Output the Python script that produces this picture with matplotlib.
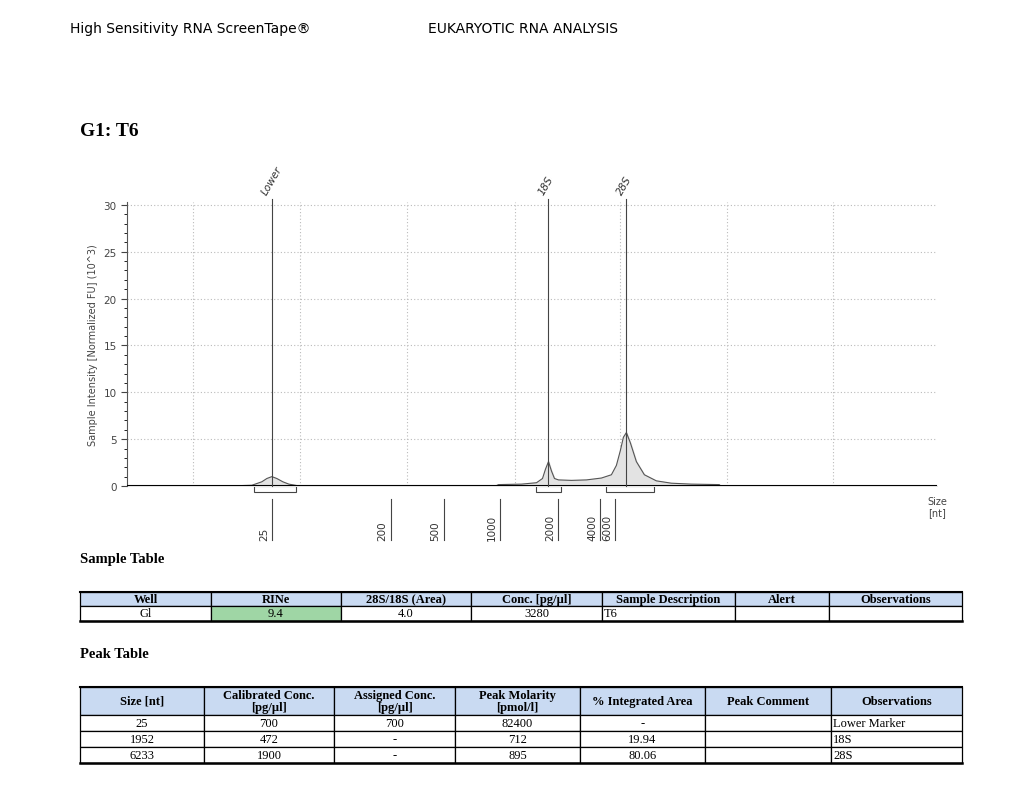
import matplotlib.pyplot as plt
from matplotlib.patches import Rectangle
from matplotlib.transforms import blended_transform_factory

# electropherogram trace: position along run (px units) vs intensity (10^3 FU)
trace_pos = [0, 110, 125, 135, 140, 145, 150, 156, 162, 170, 370, 372, 395, 410, 416, 419,
             422, 425, 428, 432, 445, 460, 475, 485, 490, 494, 497, 500, 504, 510, 518, 530,
             545, 565, 593, 594, 811]
trace_int = [0.03, 0.03, 0.08, 0.45, 0.8, 1.0, 0.8, 0.45, 0.2, 0.05, 0.05, 0.15, 0.2, 0.35, 0.8, 1.8,
             2.6, 1.6, 0.8, 0.65, 0.6, 0.65, 0.85, 1.2, 2.2, 3.8, 5.2, 5.7, 4.6, 2.6, 1.2, 0.55,
             0.3, 0.2, 0.15, 0.03, 0.03]

ladder_sizes = ["25", "200", "500", "1000", "2000", "4000", "6000"]
ladder_pos = [145, 264, 317, 373, 432, 474, 489]
peak_names = ["Lower", "18S", "28S"]
peak_pos = [145, 422, 500]
peak_boxes = [(127, 169), (410, 435), (480, 528)]
grid_x = [66, 173, 280, 388, 494, 601, 707, 814]

sample_header = ["Well", "RINe", "28S/18S (Area)", "Conc. [pg/µl]", "Sample Description", "Alert", "Observations"]
sample_row = ["Gl", "9.4", "4.0", "3280", "T6", "", ""]
sample_cols = [80, 211, 341, 471, 602, 735, 829, 962]

peak_header = ["Size [nt]", "Calibrated Conc.\n[pg/µl]", "Assigned Conc.\n[pg/µl]", "Peak Molarity\n[pmol/l]",
               "% Integrated Area", "Peak Comment", "Observations"]
peak_rows = [["25", "700", "700", "82400", "-", "", "Lower Marker"],
             ["1952", "472", "-", "712", "19.94", "", "18S"],
             ["6233", "1900", "-", "895", "80.06", "", "28S"]]
peak_cols = [80, 204, 334, 455, 580, 705, 831, 962]

fig = plt.figure(figsize=(10.24, 8.04), dpi=100)

# page overlay in pixel coordinates
page = fig.add_axes([0, 0, 1, 1])
page.set_xlim(0, 1024)
page.set_ylim(804, 0)
page.axis("off")

page.text(70, 29, "High Sensitivity RNA ScreenTape®", fontsize=10, va="center")
page.text(428, 29, "EUKARYOTIC RNA ANALYSIS", fontsize=10, va="center")
serif = "Liberation Serif"
page.text(80, 131, "G1: T6", fontsize=14, fontweight="bold", family=serif, va="center")
page.text(80, 560, "Sample Table", fontsize=10.5, fontweight="bold", family=serif, va="center")
page.text(80, 655, "Peak Table", fontsize=10.5, fontweight="bold", family=serif, va="center")


def draw_table(cols, rows_y, header, rows, left_cols, fills=None):
    fills = fills or {}
    for r, (y0, y1) in enumerate(zip(rows_y[:-1], rows_y[1:])):
        cells = header if r == 0 else rows[r - 1]
        for c, (x0, x1) in enumerate(zip(cols[:-1], cols[1:])):
            fc = "#c9daf2" if r == 0 else fills.get((r, c), "white")
            page.add_patch(Rectangle((x0, y0), x1 - x0, y1 - y0, fc=fc, ec="black", lw=0.9))
            txt = cells[c]
            if r > 0 and c in left_cols:
                page.text(x0 + 2, (y0 + y1) / 2, txt, fontsize=9, family=serif, va="center")
            else:
                page.text((x0 + x1) / 2, (y0 + y1) / 2, txt, fontsize=9, family=serif, va="center",
                          ha="center", fontweight="bold" if r == 0 else "normal", linespacing=1.0)
    page.plot([cols[0], cols[-1]], [rows_y[-1], rows_y[-1]], color="black", lw=1.8)
    page.plot([cols[0], cols[-1]], [rows_y[0], rows_y[0]], color="black", lw=1.5)


draw_table(sample_cols, [593, 607, 622], sample_header, [sample_row], {4, 6}, {(1, 1): "#9fd6a5"})
draw_table(peak_cols, [688, 716, 732, 748, 764], peak_header, peak_rows, {6})

# electropherogram
ax = fig.add_axes([127 / 1024, 1 - 487 / 804, 810 / 1024, 284 / 804])
ax.set_xlim(0, 811)
ax.set_ylim(0, 30.3)
ax.fill_between(trace_pos, 0, trace_int, color="#e3e3e3", zorder=2)
ax.plot(trace_pos, trace_int, color="#555555", lw=0.8, zorder=3)
ax.axhline(0, color="black", lw=1.5, zorder=4)
for gx in grid_x:
    ax.axvline(gx, color="#bbbbbb", ls=(0, (1, 2)), lw=0.8, zorder=1)
for gy in range(5, 31, 5):
    ax.axhline(gy, color="#bbbbbb", ls=(0, (1, 2)), lw=0.8, zorder=1)

for name, px in zip(peak_names, peak_pos):
    ax.plot([px, px], [0, 30.6], color="#444444", lw=0.8, clip_on=False, zorder=5)
    ax.text(px - 3, 30.9, name, rotation=60, fontsize=7.5, style="italic", color="#333333",
            ha="left", va="bottom", rotation_mode="anchor")

for x0, x1 in peak_boxes:
    ax.add_patch(Rectangle((x0, -0.6), x1 - x0, 0.6, fc="none", ec="#444444", lw=0.8, clip_on=False))

tr = blended_transform_factory(ax.transData, ax.transAxes)
for lab, px in zip(ladder_sizes, ladder_pos):
    ax.plot([px, px], [-0.045, -0.19], color="#444444", lw=0.8, transform=tr, clip_on=False)
    ax.text(px - 3, -0.19, lab, rotation=90, fontsize=7.5, color="#333333", ha="right", va="bottom",
            transform=tr)
ax.text(1.0, -0.035, "Size\n[nt]", fontsize=7, color="#444444", ha="center", va="top", transform=ax.transAxes)

ax.set_yticks(range(0, 31, 5))
ax.set_yticks(range(0, 31), minor=True)
ax.tick_params(axis="y", labelsize=7.5, colors="#444444", length=4)
ax.tick_params(axis="y", which="minor", length=2)
ax.set_xticks([])
ax.set_ylabel("Sample Intensity [Normalized FU] (10^3)", fontsize=7, color="#444444")
for s in ["top", "right", "bottom"]:
    ax.spines[s].set_visible(False)
ax.spines["left"].set_color("#555555")
ax.patch.set_alpha(0)

fig.savefig("out.png", dpi=100)
